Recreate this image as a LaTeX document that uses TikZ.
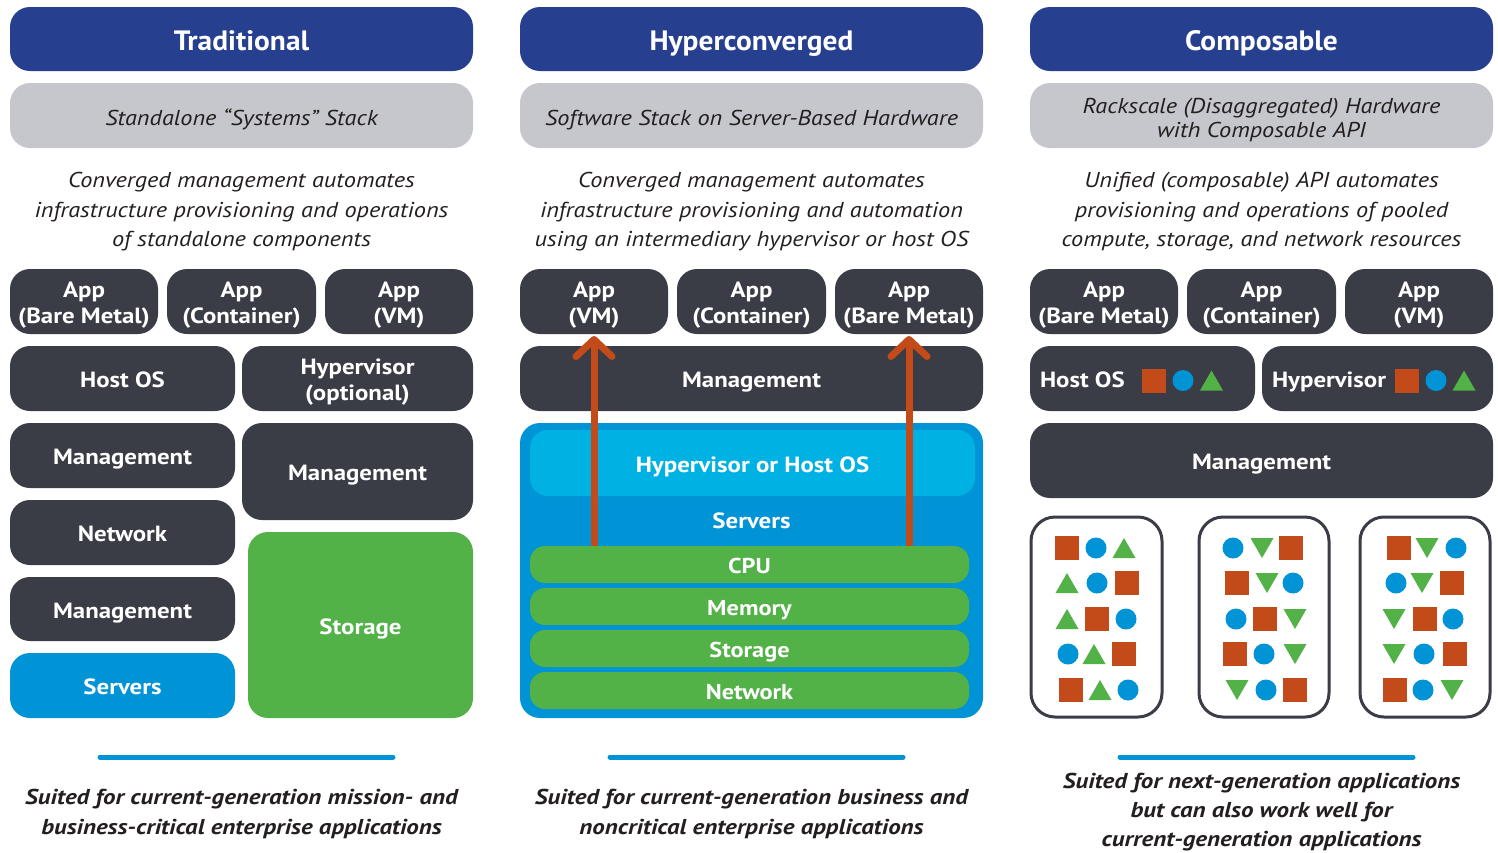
\documentclass[tikz,border=0pt]{standalone}
\usepackage{fontspec}
\setmainfont{PT Sans}[FakeStretch=1.13]
\newfontfamily\titlefont{PT Sans}[FakeStretch=1.05]
\newfontfamily\footfont{PT Sans}[FakeStretch=1.16]
\usetikzlibrary{arrows.meta}
\definecolor{hdr}{RGB}{38,63,143}
\definecolor{subg}{RGB}{197,199,205}
\definecolor{dk}{RGB}{58,60,70}
\definecolor{sblue}{RGB}{0,147,213}
\definecolor{lcyan}{RGB}{0,178,227}
\definecolor{grn}{RGB}{82,177,71}
\definecolor{org}{RGB}{195,74,25}
\definecolor{txt}{RGB}{35,31,32}
\tikzset{
 base/.style={inner sep=0pt, outer sep=0pt, rounded corners=20pt},
 hdrbox/.style={base, fill=hdr},
 subbox/.style={base, fill=subg},
 dkbox/.style={base, fill=dk},
 bluebox/.style={base, fill=sblue},
 grnbox/.style={base, fill=grn},
 cyanbox/.style={base, fill=lcyan, rounded corners=18pt},
 layer/.style={base, fill=grn, rounded corners=15pt},
 resbox/.style={base, fill=white, draw=dk, line width=3pt, rounded corners=24pt},
 tx/.style={inner sep=0pt, outer sep=0pt, align=center, text depth=0pt},
 hdrtx/.style={tx, text=white, font=\fontsize{28}{32}\selectfont\titlefont\bfseries},
 subtx/.style={tx, text=txt, font=\fontsize{21.5}{24}\selectfont\itshape},
 boxtx/.style={tx, text=white, font=\fontsize{22}{26}\selectfont\bfseries},
 laytx/.style={tx, text=white, font=\fontsize{21.5}{24}\selectfont\bfseries},
 desc/.style={inner sep=0pt, align=center, text=txt, font=\fontsize{21.5}{29.5}\selectfont\itshape},
 foot/.style={inner sep=0pt, align=center, text=txt, font=\fontsize{21.5}{29.5}\selectfont\footfont\bfseries\itshape},
 foottight/.style={foot, font=\fontsize{21.5}{28.8}\selectfont\footfont\bfseries\itshape},
 rule/.style={line width=5pt, sblue, line cap=round},
 uparrow/.style={draw=org, line width=7pt, -{Straight Barb[length=17pt,width=36pt,round]}},
 shq/.style={fill=org},
 shc/.style={fill=sblue},
 sht/.style={fill=grn}
}
% \bx{name}{x1}{y1}{x2}{y2}{box style}{text style}{text}
\newcommand\bx[8]{%
 \node[#6, minimum width={#4-#2}, minimum height={#5-#3}] (#1) at ({(#2+#4)/2},{(#3+#5)/2}) {};
 \node[#7] (#1-t) at ([yshift=-1.5pt]#1.center) {#8};}
\newcommand\shSq[2]{\fill[shq] ({#1-12},{#2-12}) rectangle ({#1+12},{#2+12});}
\newcommand\shCi[2]{\fill[shc] (#1,#2) circle (10.5);}
\newcommand\shTu[2]{\fill[sht] ({#1-11.5},{#2+10}) -- ({#1+11.5},{#2+10}) -- (#1,{#2-10}) -- cycle;}
\newcommand\shTd[2]{\fill[sht] ({#1-11.5},{#2-10}) -- ({#1+11.5},{#2-10}) -- (#1,{#2+10}) -- cycle;}
\begin{document}
\begin{tikzpicture}[x=1pt,y=-1pt]
\useasboundingbox (0,0) rectangle (1498,852);
% ===== Traditional =====
\bx{h1}{10}{7}{473}{71}{hdrbox}{hdrtx}{Traditional}
\bx{s1}{10}{83}{473}{148}{subbox}{subtx, yshift=-0.5pt}{Standalone “Systems” Stack}
\node[desc] (d1) at (241.5,212) {Converged management automates\\infrastructure provisioning and operations\\of standalone components};
\bx{ta1}{10}{269}{158}{334}{dkbox}{boxtx}{App\\(Bare Metal)}
\bx{ta2}{167}{269}{316}{334}{dkbox}{boxtx}{App\\(Container)}
\bx{ta3}{325}{269}{473}{334}{dkbox}{boxtx}{App\\(VM)}
\bx{thos}{10}{346}{235}{411}{dkbox}{boxtx}{Host OS}
\bx{thyp}{242}{346}{473}{411}{dkbox}{boxtx}{Hypervisor\\(optional)}
\bx{tm1}{10}{423}{235}{488}{dkbox}{boxtx}{Management}
\bx{tnet}{10}{500}{235}{565}{dkbox}{boxtx}{Network}
\bx{tm2}{10}{577}{235}{641}{dkbox}{boxtx}{Management}
\bx{tsrv}{10}{653}{235}{718}{bluebox}{boxtx}{Servers}
\bx{tm3}{242}{423}{473}{520}{dkbox}{boxtx}{Management}
\bx{tsto}{248}{532}{473}{718}{grnbox}{boxtx}{Storage}
\draw[rule] (100,757) -- (393,757);
\node[foot] (f1) at (241.5,814) {Suited for current-generation mission- and\\business-critical enterprise applications};
% ===== Hyperconverged =====
\bx{h2}{520}{7}{983}{71}{hdrbox}{hdrtx}{Hyperconverged}
\bx{s2}{520}{83}{983}{148}{subbox}{subtx, yshift=-0.5pt}{Software Stack on Server-Based Hardware}
\node[desc] (d2) at (751.5,212) {Converged management automates\\infrastructure provisioning and automation\\using an intermediary hypervisor or host OS};
\bx{ha1}{520}{269}{668}{334}{dkbox}{boxtx}{App\\(VM)}
\bx{ha2}{677}{269}{826}{334}{dkbox}{boxtx}{App\\(Container)}
\bx{ha3}{835}{269}{983}{334}{dkbox}{boxtx}{App\\(Bare Metal)}
\bx{hman}{520}{346}{983}{411}{dkbox}{boxtx}{Management}
\node[bluebox, minimum width=463, minimum height=295] (hsrv) at (751.5,570.5) {};
\bx{hhyp}{530}{430}{975}{496}{cyanbox}{boxtx}{Hypervisor or Host OS}
\node[boxtx] (hsl) at (751.5,521) {Servers};
\bx{hcpu}{530}{546}{969}{583}{layer}{laytx}{CPU}
\bx{hmem}{530}{588}{969}{625}{layer}{laytx}{Memory}
\bx{hsto}{530}{630}{969}{667}{layer}{laytx}{Storage}
\bx{hnet}{530}{672}{969}{709}{layer}{laytx}{Network}
\draw[uparrow] (hcpu.north -| ha1.south) -- ([yshift=-2pt]ha1.south);
\draw[uparrow] (hcpu.north -| ha3.south) -- ([yshift=-2pt]ha3.south);
\draw[rule] (610,757) -- (903,757);
\node[foot] (f2) at (751.5,814) {Suited for current-generation business and\\noncritical enterprise applications};
% ===== Composable =====
\bx{h3}{1030}{7}{1493}{71}{hdrbox}{hdrtx}{Composable}
\bx{s3}{1030}{83}{1493}{148}{subbox}{subtx, yshift=-0.5pt}{Rackscale (Disaggregated) Hardware\\with Composable API}
\node[desc] (d3) at (1261.5,212) {Unified (composable) API automates\\provisioning and operations of pooled\\compute, storage, and network resources};
\bx{ca1}{1030}{269}{1178}{334}{dkbox}{boxtx}{App\\(Bare Metal)}
\bx{ca2}{1187}{269}{1336}{334}{dkbox}{boxtx}{App\\(Container)}
\bx{ca3}{1345}{269}{1493}{334}{dkbox}{boxtx}{App\\(VM)}
\node[dkbox, minimum width=225, minimum height=65] (chos) at (1142.5,378.5) {};
\node[boxtx, anchor=west] (chos-t) at ([xshift=10pt,yshift=-1.5pt]chos.west) {Host OS};
\node[dkbox, minimum width=231, minimum height=65] (chyp) at (1377.5,378.5) {};
\node[boxtx, anchor=west] (chyp-t) at ([xshift=10pt,yshift=-1.5pt]chyp.west) {Hypervisor};
\shSq{1154}{380.5} \shCi{1183}{380.5} \shTu{1211.5}{380.5}
\shSq{1406.5}{380.5} \shCi{1436}{380.5} \shTu{1464}{380.5}
\bx{cman}{1030}{423}{1493}{498}{dkbox}{boxtx}{Management}
\node[resbox, minimum width=131, minimum height=200] (cr1) at (1096.5,617) {};
\node[resbox, minimum width=130, minimum height=200] (cr2) at (1264,617) {};
\node[resbox, minimum width=130, minimum height=200] (cr3) at (1425,617) {};
% box 1
\shSq{1067}{548} \shCi{1096}{548} \shTu{1124}{548}
\shTu{1067}{583} \shCi{1097}{583} \shSq{1127}{583}
\shTu{1067}{619} \shSq{1097}{619} \shCi{1126}{619}
\shCi{1068}{654} \shTu{1094}{654} \shSq{1124}{654}
\shSq{1071}{690} \shTu{1100}{690} \shCi{1128}{690}
% box 2
\shCi{1233}{548} \shTd{1262}{548} \shSq{1291}{548}
\shSq{1237}{583} \shTd{1267}{583} \shCi{1293}{583}
\shCi{1236}{619} \shSq{1265}{619} \shTd{1295}{619}
\shSq{1235}{654} \shCi{1264}{654} \shTd{1295}{654}
\shTd{1237}{690} \shCi{1266}{690} \shSq{1295}{690}
% box 3
\shSq{1399}{548} \shTd{1427}{548} \shCi{1456}{548}
\shCi{1396}{583} \shTd{1422}{583} \shSq{1452}{583}
\shTd{1394}{619} \shSq{1425}{619} \shCi{1453}{619}
\shTd{1394}{654} \shCi{1424}{654} \shSq{1455}{654}
\shSq{1395}{690} \shCi{1423}{690} \shTd{1452}{690}
\draw[rule] (1120,757) -- (1413,757);
\node[foottight] (f3) at (1261.5,812) {Suited for next-generation applications\\but can also work well for\\current-generation applications};
\end{tikzpicture}
\end{document}
